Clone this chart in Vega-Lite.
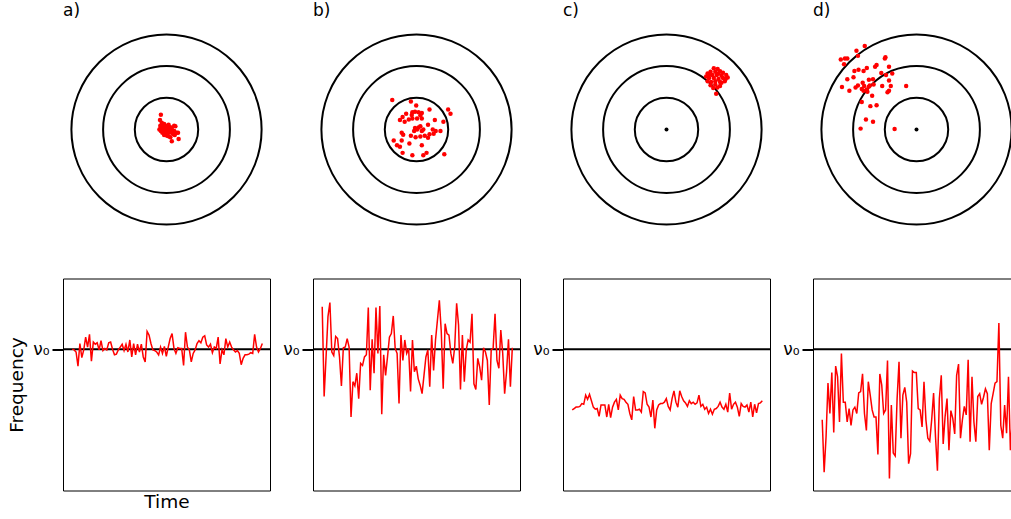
{
  "$schema": "https://vega.github.io/schema/vega-lite/v6.json",
  "background": "white",
  "padding": {"left": 7, "top": 2, "right": -9, "bottom": 0},
  "config": {
    "font": "DejaVu Sans",
    "view": {"stroke": null},
    "title": {"fontSize": 17, "fontWeight": "normal", "color": "#000", "anchor": "start", "offset": 6}
  },
  "datasets": {
    "rings": [{"r": 1}, {"r": 2}, {"r": 3}],
    "shots_a": [
      {"x": -0.19, "y": 0.50}, {"x": -0.22, "y": 0.32}, {"x": -0.16, "y": 0.23}, {"x": -0.14, "y": 0.16},
      {"x": -0.08, "y": 0.19}, {"x": -0.03, "y": 0.13}, {"x": 0.02, "y": 0.11}, {"x": 0.07, "y": 0.16},
      {"x": 0.13, "y": 0.08}, {"x": 0.18, "y": 0.05}, {"x": 0.26, "y": 0.13}, {"x": 0.30, "y": 0.11},
      {"x": -0.24, "y": 0.00}, {"x": -0.19, "y": -0.05}, {"x": -0.14, "y": -0.11}, {"x": -0.08, "y": -0.05},
      {"x": -0.03, "y": -0.02}, {"x": 0.02, "y": -0.05}, {"x": 0.07, "y": -0.11}, {"x": 0.13, "y": -0.08},
      {"x": 0.18, "y": -0.11}, {"x": 0.23, "y": -0.16}, {"x": -0.12, "y": 0.05}, {"x": -0.05, "y": 0.02},
      {"x": -0.01, "y": 0.05}, {"x": 0.05, "y": 0.02}, {"x": 0.11, "y": -0.02}, {"x": 0.16, "y": -0.02},
      {"x": 0.20, "y": -0.05}, {"x": 0.26, "y": -0.05}, {"x": -0.19, "y": 0.08}, {"x": 0.28, "y": -0.19},
      {"x": 0.34, "y": -0.11}, {"x": 0.39, "y": -0.11}, {"x": 0.41, "y": -0.32}, {"x": 0.18, "y": -0.40},
      {"x": 0.02, "y": -0.21}, {"x": 0.07, "y": -0.23}, {"x": 0.13, "y": -0.26}, {"x": -0.03, "y": -0.16},
      {"x": -0.08, "y": -0.19}, {"x": -0.21, "y": 0.13}
    ],
    "shots_b": [
      {"x": -0.82, "y": 1.00}, {"x": -0.19, "y": 0.95}, {"x": -0.01, "y": 0.81}, {"x": 0.44, "y": 0.68},
      {"x": 1.07, "y": 0.68}, {"x": 1.15, "y": 0.53}, {"x": -0.47, "y": 0.42}, {"x": -0.14, "y": 0.58},
      {"x": -0.05, "y": 0.60}, {"x": 0.07, "y": 0.58}, {"x": 0.18, "y": 0.56}, {"x": -0.14, "y": 0.37},
      {"x": 0.02, "y": 0.37}, {"x": -0.26, "y": 0.34}, {"x": -0.56, "y": 0.32}, {"x": -0.40, "y": 0.26},
      {"x": 0.13, "y": 0.47}, {"x": 0.62, "y": 0.32}, {"x": 0.39, "y": 0.16}, {"x": -0.05, "y": 0.05},
      {"x": 0.02, "y": 0.00}, {"x": 0.07, "y": 0.07}, {"x": 0.13, "y": 0.11}, {"x": -0.08, "y": -0.05},
      {"x": 0.18, "y": -0.05}, {"x": 0.23, "y": 0.00}, {"x": 0.55, "y": 0.00}, {"x": 0.65, "y": -0.05},
      {"x": 0.81, "y": -0.05}, {"x": 0.91, "y": 0.26}, {"x": 0.58, "y": -0.14}, {"x": -0.50, "y": -0.11},
      {"x": -0.45, "y": -0.18}, {"x": -0.19, "y": -0.21}, {"x": -0.03, "y": -0.26}, {"x": 0.13, "y": -0.24},
      {"x": 0.28, "y": -0.21}, {"x": 0.44, "y": -0.16}, {"x": 0.39, "y": -0.28}, {"x": -0.77, "y": -0.37},
      {"x": -0.66, "y": -0.53}, {"x": -0.56, "y": -0.58}, {"x": -0.50, "y": -0.37}, {"x": -0.24, "y": -0.47},
      {"x": 0.18, "y": -0.53}, {"x": 0.34, "y": -0.79}, {"x": 0.23, "y": -0.87}, {"x": -0.14, "y": -0.87},
      {"x": -0.47, "y": -0.79}, {"x": 0.94, "y": -0.84}, {"x": -0.16, "y": 0.49}, {"x": -0.35, "y": 0.53},
      {"x": 0.18, "y": 0.37}
    ],
    "shots_c": [
      {"x": 1.60, "y": 2.07}, {"x": 1.73, "y": 2.05}, {"x": 1.49, "y": 1.95}, {"x": 1.65, "y": 1.95},
      {"x": 1.81, "y": 1.97}, {"x": 1.91, "y": 1.92}, {"x": 1.39, "y": 1.89}, {"x": 1.55, "y": 1.84},
      {"x": 1.70, "y": 1.84}, {"x": 1.86, "y": 1.82}, {"x": 2.02, "y": 1.84}, {"x": 1.34, "y": 1.79},
      {"x": 1.44, "y": 1.74}, {"x": 1.60, "y": 1.74}, {"x": 1.76, "y": 1.71}, {"x": 1.91, "y": 1.74},
      {"x": 2.07, "y": 1.76}, {"x": 1.39, "y": 1.63}, {"x": 1.51, "y": 1.61}, {"x": 1.65, "y": 1.63},
      {"x": 1.81, "y": 1.61}, {"x": 1.97, "y": 1.63}, {"x": 1.49, "y": 1.50}, {"x": 1.65, "y": 1.52},
      {"x": 1.81, "y": 1.47}, {"x": 1.58, "y": 1.40}, {"x": 1.72, "y": 1.42}, {"x": 1.86, "y": 1.58},
      {"x": 1.68, "y": 1.21}, {"x": 2.00, "y": 1.71}, {"x": 1.44, "y": 1.84}, {"x": 1.76, "y": 1.89}
    ],
    "shots_d": [
      {"x": -1.75, "y": 2.82}, {"x": -2.03, "y": 2.66}, {"x": -1.98, "y": 2.49}, {"x": -2.56, "y": 2.37},
      {"x": -2.42, "y": 2.40}, {"x": -2.34, "y": 2.40}, {"x": -2.45, "y": 2.21}, {"x": -1.05, "y": 2.44},
      {"x": -1.07, "y": 2.40}, {"x": -1.40, "y": 2.12}, {"x": -1.35, "y": 2.18}, {"x": -0.93, "y": 2.12},
      {"x": -1.68, "y": 2.08}, {"x": -1.96, "y": 2.02}, {"x": -2.10, "y": 1.98}, {"x": -1.79, "y": 1.98},
      {"x": -2.13, "y": 1.77}, {"x": -1.19, "y": 1.91}, {"x": -1.03, "y": 1.84}, {"x": -0.82, "y": 1.89},
      {"x": -1.47, "y": 1.70}, {"x": -1.61, "y": 1.68}, {"x": -2.34, "y": 1.70}, {"x": -1.82, "y": 1.58},
      {"x": -1.98, "y": 1.49}, {"x": -2.06, "y": 1.42}, {"x": -1.85, "y": 1.37}, {"x": -1.79, "y": 1.31},
      {"x": -1.68, "y": 1.35}, {"x": -1.45, "y": 1.52}, {"x": -1.58, "y": 1.49}, {"x": -1.16, "y": 1.47},
      {"x": -0.93, "y": 1.66}, {"x": -0.87, "y": 1.47}, {"x": -0.93, "y": 1.31}, {"x": -0.98, "y": 1.26},
      {"x": -2.27, "y": 1.31}, {"x": -2.52, "y": 1.44}, {"x": -1.66, "y": 1.28}, {"x": -0.35, "y": 1.47},
      {"x": -1.85, "y": 0.93}, {"x": -1.50, "y": 1.14}, {"x": -1.56, "y": 0.79}, {"x": -1.35, "y": 0.82},
      {"x": -1.71, "y": 0.34}, {"x": -1.47, "y": 0.26}, {"x": -1.89, "y": 0.03}, {"x": -0.74, "y": 0.02},
      {"x": -1.61, "y": 1.45}, {"x": -1.77, "y": 1.47}
    ],
    "series_a": [
      {"t":0,"v":0.00},{"t":1,"v":-0.01},{"t":2,"v":-0.04},{"t":3,"v":-0.24},{"t":4,"v":0.08},{"t":5,"v":-0.12},{"t":6,"v":-0.01},{"t":7,"v":0.17},{"t":8,"v":0.03},{"t":9,"v":0.21},
      {"t":10,"v":-0.17},{"t":11,"v":0.10},{"t":12,"v":0.07},{"t":13,"v":0.09},{"t":14,"v":-0.01},{"t":15,"v":0.12},{"t":16,"v":-0.02},{"t":17,"v":0.01},{"t":18,"v":-0.01},{"t":19,"v":0.09},
      {"t":20,"v":0.10},{"t":21,"v":0.00},{"t":22,"v":-0.08},{"t":23,"v":-0.07},{"t":24,"v":-0.01},{"t":25,"v":0.03},{"t":26,"v":0.07},{"t":27,"v":-0.02},{"t":28,"v":0.07},{"t":29,"v":-0.04},
      {"t":30,"v":0.13},{"t":31,"v":-0.11},{"t":32,"v":0.08},{"t":33,"v":-0.08},{"t":34,"v":0.07},{"t":35,"v":-0.04},{"t":36,"v":0.07},{"t":37,"v":-0.11},{"t":38,"v":-0.18},{"t":39,"v":0.25},
      {"t":40,"v":0.20},{"t":41,"v":0.08},{"t":42,"v":-0.01},{"t":43,"v":-0.02},{"t":44,"v":-0.04},{"t":45,"v":-0.08},{"t":46,"v":0.03},{"t":47,"v":-0.06},{"t":48,"v":0.04},{"t":49,"v":-0.10},
      {"t":50,"v":0.03},{"t":51,"v":0.15},{"t":52,"v":0.22},{"t":53,"v":0.01},{"t":54,"v":-0.06},{"t":55,"v":0.02},{"t":56,"v":0.01},{"t":57,"v":0.01},{"t":58,"v":-0.23},{"t":59,"v":0.24},
      {"t":60,"v":0.03},{"t":61,"v":-0.01},{"t":62,"v":-0.18},{"t":63,"v":-0.06},{"t":64,"v":-0.01},{"t":65,"v":0.08},{"t":66,"v":0.12},{"t":67,"v":0.09},{"t":68,"v":0.17},{"t":69,"v":0.19},
      {"t":70,"v":0.06},{"t":71,"v":0.03},{"t":72,"v":0.07},{"t":73,"v":-0.05},{"t":74,"v":0.03},{"t":75,"v":0.01},{"t":76,"v":0.17},{"t":77,"v":-0.21},{"t":78,"v":-0.01},{"t":79,"v":-0.08},
      {"t":80,"v":0.15},{"t":81,"v":0.03},{"t":82,"v":0.10},{"t":83,"v":0.03},{"t":84,"v":-0.01},{"t":85,"v":-0.04},{"t":86,"v":-0.02},{"t":87,"v":-0.06},{"t":88,"v":-0.22},{"t":89,"v":-0.13},
      {"t":90,"v":-0.08},{"t":91,"v":-0.08},{"t":92,"v":-0.07},{"t":93,"v":-0.05},{"t":94,"v":-0.06},{"t":95,"v":0.21},{"t":96,"v":0.03},{"t":97,"v":-0.04},{"t":98,"v":0.01},{"t":99,"v":0.08}
    ],
    "series_b": [
      {"t":0,"v":0.60},{"t":1,"v":-0.67},{"t":2,"v":-0.11},{"t":3,"v":0.46},{"t":4,"v":0.66},{"t":5,"v":-0.04},{"t":6,"v":-0.09},{"t":7,"v":0.18},{"t":8,"v":0.15},{"t":9,"v":-0.11},
      {"t":10,"v":-0.52},{"t":11,"v":0.02},{"t":12,"v":0.03},{"t":13,"v":0.15},{"t":14,"v":0.03},{"t":15,"v":-0.96},{"t":16,"v":-0.46},{"t":17,"v":-0.52},{"t":18,"v":-0.34},{"t":19,"v":-0.70},
      {"t":20,"v":-0.20},{"t":21,"v":-0.23},{"t":22,"v":-0.11},{"t":23,"v":-0.08},{"t":24,"v":0.59},{"t":25,"v":-0.58},{"t":26,"v":0.14},{"t":27,"v":-0.34},{"t":28,"v":0.59},{"t":29,"v":-0.06},
      {"t":30,"v":0.61},{"t":31,"v":-0.92},{"t":32,"v":-0.08},{"t":33,"v":-0.37},{"t":34,"v":-0.11},{"t":35,"v":0.17},{"t":36,"v":0.22},{"t":37,"v":0.47},{"t":38,"v":0.01},{"t":39,"v":-0.06},
      {"t":40,"v":-0.77},{"t":41,"v":0.20},{"t":42,"v":-0.16},{"t":43,"v":0.13},{"t":44,"v":-0.06},{"t":45,"v":0.01},{"t":46,"v":-0.60},{"t":47,"v":0.13},{"t":48,"v":-0.32},{"t":49,"v":-0.24},
      {"t":50,"v":-0.42},{"t":51,"v":-0.51},{"t":52,"v":-0.63},{"t":53,"v":-0.37},{"t":54,"v":-0.11},{"t":55,"v":-0.01},{"t":56,"v":-0.53},{"t":57,"v":0.20},{"t":58,"v":-0.30},{"t":59,"v":0.13},
      {"t":60,"v":0.41},{"t":61,"v":0.69},{"t":62,"v":0.25},{"t":63,"v":-0.56},{"t":64,"v":0.36},{"t":65,"v":0.22},{"t":66,"v":0.20},{"t":67,"v":-0.06},{"t":68,"v":-0.20},{"t":69,"v":0.03},
      {"t":70,"v":0.65},{"t":71,"v":0.34},{"t":72,"v":-0.57},{"t":73,"v":0.20},{"t":74,"v":-0.46},{"t":75,"v":-0.01},{"t":76,"v":0.13},{"t":77,"v":0.10},{"t":78,"v":0.50},{"t":79,"v":-0.49},
      {"t":80,"v":-0.57},{"t":81,"v":-0.13},{"t":82,"v":-0.25},{"t":83,"v":-0.44},{"t":84,"v":0.02},{"t":85,"v":-0.04},{"t":86,"v":-0.16},{"t":87,"v":-0.79},{"t":88,"v":-0.01},{"t":89,"v":0.01},
      {"t":90,"v":0.50},{"t":91,"v":-0.16},{"t":92,"v":-0.27},{"t":93,"v":0.27},{"t":94,"v":-0.06},{"t":95,"v":-0.63},{"t":96,"v":-0.32},{"t":97,"v":0.14},{"t":98,"v":-0.53},{"t":99,"v":0.02}
    ],
    "series_c": [
      {"t":0,"v":-0.86},{"t":1,"v":-0.84},{"t":2,"v":-0.82},{"t":3,"v":-0.82},{"t":4,"v":-0.81},{"t":5,"v":-0.77},{"t":6,"v":-0.78},{"t":7,"v":-0.65},{"t":8,"v":-0.71},{"t":9,"v":-0.64},
      {"t":10,"v":-0.73},{"t":11,"v":-0.82},{"t":12,"v":-0.85},{"t":13,"v":-0.84},{"t":14,"v":-0.95},{"t":15,"v":-0.79},{"t":16,"v":-0.79},{"t":17,"v":-0.79},{"t":18,"v":-0.96},{"t":19,"v":-0.78},
      {"t":20,"v":-0.97},{"t":21,"v":-0.82},{"t":22,"v":-0.75},{"t":23,"v":-0.71},{"t":24,"v":-0.86},{"t":25,"v":-0.65},{"t":26,"v":-0.70},{"t":27,"v":-0.71},{"t":28,"v":-0.75},{"t":29,"v":-0.78},
      {"t":30,"v":-0.91},{"t":31,"v":-1.00},{"t":32,"v":-0.67},{"t":33,"v":-0.86},{"t":34,"v":-0.86},{"t":35,"v":-0.85},{"t":36,"v":-0.89},{"t":37,"v":-0.60},{"t":38,"v":-0.62},{"t":39,"v":-0.78},
      {"t":40,"v":-0.82},{"t":41,"v":-0.96},{"t":42,"v":-0.72},{"t":43,"v":-1.12},{"t":44,"v":-0.86},{"t":45,"v":-0.79},{"t":46,"v":-0.77},{"t":47,"v":-0.77},{"t":48,"v":-0.75},{"t":49,"v":-0.70},
      {"t":50,"v":-0.81},{"t":51,"v":-0.86},{"t":52,"v":-0.70},{"t":53,"v":-0.59},{"t":54,"v":-0.75},{"t":55,"v":-0.82},{"t":56,"v":-0.59},{"t":57,"v":-0.67},{"t":58,"v":-0.73},{"t":59,"v":-0.76},
      {"t":60,"v":-0.81},{"t":61,"v":-0.73},{"t":62,"v":-0.77},{"t":63,"v":-0.75},{"t":64,"v":-0.78},{"t":65,"v":-0.76},{"t":66,"v":-0.65},{"t":67,"v":-0.81},{"t":68,"v":-0.78},{"t":69,"v":-0.85},
      {"t":70,"v":-0.82},{"t":71,"v":-0.91},{"t":72,"v":-0.85},{"t":73,"v":-0.92},{"t":74,"v":-0.85},{"t":75,"v":-0.84},{"t":76,"v":-0.81},{"t":77,"v":-0.75},{"t":78,"v":-0.82},{"t":79,"v":-0.85},
      {"t":80,"v":-0.78},{"t":81,"v":-0.89},{"t":82,"v":-0.62},{"t":83,"v":-0.85},{"t":84,"v":-0.78},{"t":85,"v":-0.75},{"t":86,"v":-0.82},{"t":87,"v":-0.95},{"t":88,"v":-0.77},{"t":89,"v":-0.81},
      {"t":90,"v":-0.82},{"t":91,"v":-0.79},{"t":92,"v":-0.89},{"t":93,"v":-0.75},{"t":94,"v":-0.96},{"t":95,"v":-0.78},{"t":96,"v":-0.90},{"t":97,"v":-0.77},{"t":98,"v":-0.76},{"t":99,"v":-0.73}
    ],
    "series_d": [
      {"t":0,"v":-1.00},{"t":1,"v":-1.74},{"t":2,"v":-1.24},{"t":3,"v":-0.48},{"t":4,"v":-0.91},{"t":5,"v":-0.33},{"t":6,"v":-1.18},{"t":7,"v":-0.24},{"t":8,"v":-0.39},{"t":9,"v":-1.03},
      {"t":10,"v":-0.06},{"t":11,"v":-0.75},{"t":12,"v":-0.75},{"t":13,"v":-1.03},{"t":14,"v":-0.84},{"t":15,"v":-1.08},{"t":16,"v":-0.86},{"t":17,"v":-0.82},{"t":18,"v":-0.91},{"t":19,"v":-0.62},
      {"t":20,"v":-0.60},{"t":21,"v":-0.35},{"t":22,"v":-0.91},{"t":23,"v":-1.15},{"t":24,"v":-0.46},{"t":25,"v":-0.65},{"t":26,"v":-0.86},{"t":27,"v":-0.96},{"t":28,"v":-0.96},{"t":29,"v":-1.49},
      {"t":30,"v":-0.35},{"t":31,"v":-0.51},{"t":32,"v":-0.91},{"t":33,"v":-0.86},{"t":34,"v":-0.16},{"t":35,"v":-1.83},{"t":36,"v":-0.79},{"t":37,"v":-1.47},{"t":38,"v":-1.51},{"t":39,"v":-0.70},
      {"t":40,"v":-0.18},{"t":41,"v":-1.26},{"t":42,"v":-0.65},{"t":43,"v":-0.54},{"t":44,"v":-0.75},{"t":45,"v":-1.62},{"t":46,"v":-1.48},{"t":47,"v":-0.31},{"t":48,"v":-0.33},{"t":49,"v":-0.33},
      {"t":50,"v":-0.84},{"t":51,"v":-0.86},{"t":52,"v":-1.10},{"t":53,"v":-0.46},{"t":54,"v":-1.00},{"t":55,"v":-1.26},{"t":56,"v":-1.30},{"t":57,"v":-1.00},{"t":58,"v":-0.62},{"t":59,"v":-1.24},
      {"t":60,"v":-1.72},{"t":61,"v":-0.70},{"t":62,"v":-0.37},{"t":63,"v":-1.34},{"t":64,"v":-0.95},{"t":65,"v":-0.70},{"t":66,"v":-1.43},{"t":67,"v":-0.87},{"t":68,"v":-0.98},{"t":69,"v":-1.20},
      {"t":70,"v":-0.37},{"t":71,"v":-0.21},{"t":72,"v":-1.26},{"t":73,"v":-1.00},{"t":74,"v":-0.81},{"t":75,"v":-0.93},{"t":76,"v":-0.15},{"t":77,"v":-1.31},{"t":78,"v":-0.39},{"t":79,"v":-1.03},
      {"t":80,"v":-1.31},{"t":81,"v":-0.67},{"t":82,"v":-0.63},{"t":83,"v":-0.78},{"t":84,"v":-0.68},{"t":85,"v":-0.56},{"t":86,"v":-0.63},{"t":87,"v":-1.43},{"t":88,"v":-0.77},{"t":89,"v":-0.63},
      {"t":90,"v":-0.48},{"t":91,"v":-0.46},{"t":92,"v":0.37},{"t":93,"v":-1.08},{"t":94,"v":-1.26},{"t":95,"v":-0.79},{"t":96,"v":-1.19},{"t":97,"v":-0.39},{"t":98,"v":-1.43},{"t":99,"v":-1.00}
    ]
  },
  "vconcat": [
    {
      "hconcat": [
        {
          "width": 207, "height": 207,
          "title": "a)",
          "layer": [
            {"data": {"name": "rings"}, "mark": {"type": "point", "shape": "circle", "filled": false, "stroke": "#000", "strokeWidth": 2, "opacity": 1},
             "encoding": {"x": {"datum": 0, "type": "quantitative", "scale": {"domain": [-3.265, 3.265]}, "axis": null},
                          "y": {"datum": 0, "type": "quantitative", "scale": {"domain": [-3.265, 3.265]}, "axis": null},
                          "size": {"field": "r", "type": "quantitative", "scale": {"type": "pow", "exponent": 2, "domain": [0, 3], "range": [0, 36176]}, "legend": null}}},
            {"data": {"name": "shots_a"}, "mark": {"type": "circle", "color": "#ff0000", "size": 20, "opacity": 1},
             "encoding": {"x": {"field": "x", "type": "quantitative"}, "y": {"field": "y", "type": "quantitative"}}}
          ]
        },
        {
          "width": 207, "height": 207,
          "title": "b)",
          "layer": [
            {"data": {"name": "rings"}, "mark": {"type": "point", "shape": "circle", "filled": false, "stroke": "#000", "strokeWidth": 2, "opacity": 1},
             "encoding": {"x": {"datum": 0, "type": "quantitative", "scale": {"domain": [-3.265, 3.265]}, "axis": null},
                          "y": {"datum": 0, "type": "quantitative", "scale": {"domain": [-3.265, 3.265]}, "axis": null},
                          "size": {"field": "r", "type": "quantitative", "scale": {"type": "pow", "exponent": 2, "domain": [0, 3], "range": [0, 36176]}, "legend": null}}},
            {"data": {"name": "shots_b"}, "mark": {"type": "circle", "color": "#ff0000", "size": 20, "opacity": 1},
             "encoding": {"x": {"field": "x", "type": "quantitative"}, "y": {"field": "y", "type": "quantitative"}}}
          ]
        },
        {
          "width": 207, "height": 207,
          "title": "c)",
          "layer": [
            {"data": {"name": "rings"}, "mark": {"type": "point", "shape": "circle", "filled": false, "stroke": "#000", "strokeWidth": 2, "opacity": 1},
             "encoding": {"x": {"datum": 0, "type": "quantitative", "scale": {"domain": [-3.265, 3.265]}, "axis": null},
                          "y": {"datum": 0, "type": "quantitative", "scale": {"domain": [-3.265, 3.265]}, "axis": null},
                          "size": {"field": "r", "type": "quantitative", "scale": {"type": "pow", "exponent": 2, "domain": [0, 3], "range": [0, 36176]}, "legend": null}}},
            {"data": {"values": [{"mark": "centre"}]}, "mark": {"type": "circle", "color": "#000", "size": 16, "opacity": 1},
             "encoding": {"x": {"datum": 0, "type": "quantitative"}, "y": {"datum": 0, "type": "quantitative"}}},
            {"data": {"name": "shots_c"}, "mark": {"type": "circle", "color": "#ff0000", "size": 20, "opacity": 1},
             "encoding": {"x": {"field": "x", "type": "quantitative"}, "y": {"field": "y", "type": "quantitative"}}}
          ]
        },
        {
          "width": 207, "height": 207,
          "title": "d)",
          "layer": [
            {"data": {"name": "rings"}, "mark": {"type": "point", "shape": "circle", "filled": false, "stroke": "#000", "strokeWidth": 2, "opacity": 1},
             "encoding": {"x": {"datum": 0, "type": "quantitative", "scale": {"domain": [-3.265, 3.265]}, "axis": null},
                          "y": {"datum": 0, "type": "quantitative", "scale": {"domain": [-3.265, 3.265]}, "axis": null},
                          "size": {"field": "r", "type": "quantitative", "scale": {"type": "pow", "exponent": 2, "domain": [0, 3], "range": [0, 36176]}, "legend": null}}},
            {"data": {"values": [{"mark": "centre"}]}, "mark": {"type": "circle", "color": "#000", "size": 16, "opacity": 1},
             "encoding": {"x": {"datum": 0, "type": "quantitative"}, "y": {"datum": 0, "type": "quantitative"}}},
            {"data": {"name": "shots_d"}, "mark": {"type": "circle", "color": "#ff0000", "size": 20, "opacity": 1},
             "encoding": {"x": {"field": "x", "type": "quantitative"}, "y": {"field": "y", "type": "quantitative"}}}
          ]
        }
      ],
      "spacing": 43,
      "bounds": "flush"
    },
    {
      "hconcat": [
        {
          "width": 207, "height": 212,
          "view": {"stroke": "#000", "strokeWidth": 1},
          "layer": [
            {"data": {"values": [{"level": "nu0"}]}, "mark": {"type": "rule", "color": "#000", "strokeWidth": 2},
             "encoding": {"y": {"datum": 0, "type": "quantitative", "scale": {"domain": [-2, 1]},
                                "axis": {"values": [0], "labelExpr": "'ν₀'", "tickSize": 11, "tickWidth": 2, "tickColor": "#000", "domain": false, "grid": false,
                                         "labelFontSize": 17, "labelPadding": 3, "labelColor": "#000",
                                         "title": "Frequency", "titleFontSize": 18.5, "titleFontWeight": "normal", "titleColor": "#000", "titlePadding": 6}}}},
            {"data": {"name": "series_a"}, "mark": {"type": "line", "color": "#ff0000", "strokeWidth": 1.5},
             "encoding": {"x": {"field": "t", "type": "quantitative", "scale": {"domain": [-4.8, 103]},
                                "axis": {"title": "Time", "labels": false, "ticks": false, "domain": false, "grid": false, "titleFontSize": 18.5, "titleFontWeight": "normal", "titleColor": "#000", "titlePadding": 2}},
                          "y": {"field": "v", "type": "quantitative"}}}
          ]
        },
        {
          "width": 207, "height": 212,
          "view": {"stroke": "#000", "strokeWidth": 1},
          "layer": [
            {"data": {"values": [{"level": "nu0"}]}, "mark": {"type": "rule", "color": "#000", "strokeWidth": 2},
             "encoding": {"y": {"datum": 0, "type": "quantitative", "scale": {"domain": [-2, 1]},
                                "axis": {"values": [0], "labelExpr": "'ν₀'", "tickSize": 11, "tickWidth": 2, "tickColor": "#000", "domain": false, "grid": false,
                                         "labelFontSize": 17, "labelPadding": 3, "labelColor": "#000", "title": null}}}},
            {"data": {"name": "series_b"}, "mark": {"type": "line", "color": "#ff0000", "strokeWidth": 1.5},
             "encoding": {"x": {"field": "t", "type": "quantitative", "scale": {"domain": [-4.8, 103]}, "axis": null},
                          "y": {"field": "v", "type": "quantitative"}}}
          ]
        },
        {
          "width": 207, "height": 212,
          "view": {"stroke": "#000", "strokeWidth": 1},
          "layer": [
            {"data": {"values": [{"level": "nu0"}]}, "mark": {"type": "rule", "color": "#000", "strokeWidth": 2},
             "encoding": {"y": {"datum": 0, "type": "quantitative", "scale": {"domain": [-2, 1]},
                                "axis": {"values": [0], "labelExpr": "'ν₀'", "tickSize": 11, "tickWidth": 2, "tickColor": "#000", "domain": false, "grid": false,
                                         "labelFontSize": 17, "labelPadding": 3, "labelColor": "#000", "title": null}}}},
            {"data": {"name": "series_c"}, "mark": {"type": "line", "color": "#ff0000", "strokeWidth": 1.5},
             "encoding": {"x": {"field": "t", "type": "quantitative", "scale": {"domain": [-4.8, 103]}, "axis": null},
                          "y": {"field": "v", "type": "quantitative"}}}
          ]
        },
        {
          "width": 207, "height": 212,
          "view": {"stroke": "#000", "strokeWidth": 1},
          "layer": [
            {"data": {"values": [{"level": "nu0"}]}, "mark": {"type": "rule", "color": "#000", "strokeWidth": 2},
             "encoding": {"y": {"datum": 0, "type": "quantitative", "scale": {"domain": [-2, 1]},
                                "axis": {"values": [0], "labelExpr": "'ν₀'", "tickSize": 11, "tickWidth": 2, "tickColor": "#000", "domain": false, "grid": false,
                                         "labelFontSize": 17, "labelPadding": 3, "labelColor": "#000", "title": null}}}},
            {"data": {"name": "series_d"}, "mark": {"type": "line", "color": "#ff0000", "strokeWidth": 1.5},
             "encoding": {"x": {"field": "t", "type": "quantitative", "scale": {"domain": [-4.8, 103]}, "axis": null},
                          "y": {"field": "v", "type": "quantitative"}}}
          ]
        }
      ],
      "spacing": 43,
      "bounds": "flush"
    }
  ],
  "spacing": 44.5
}
